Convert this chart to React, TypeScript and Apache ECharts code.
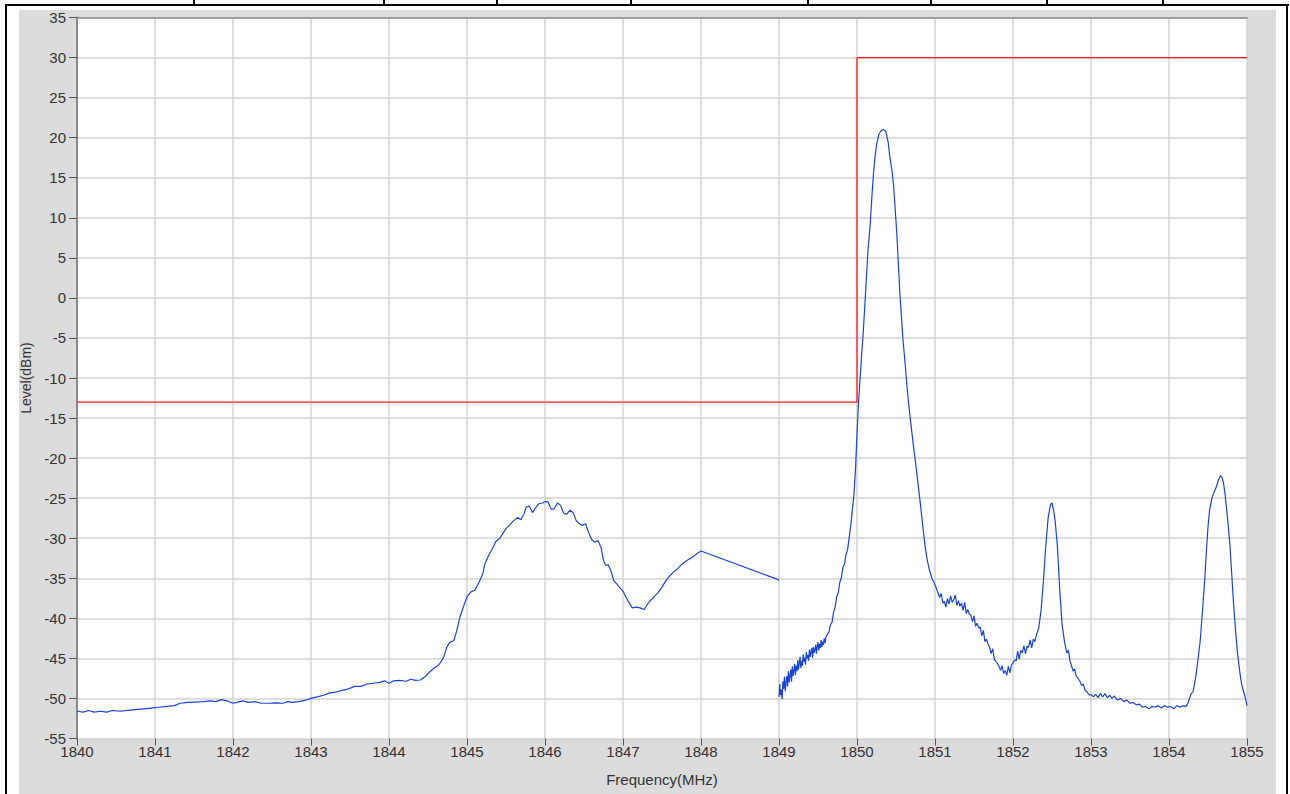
import React, { useEffect, useRef } from "react";
import * as echarts from "echarts";

// Frequency axis (MHz) and level axis (dBm)
const xMin = 1840;
const xMax = 1855;
const yMin = -55;
const yMax = 35;

// Limit mask (red)
const limitFreq = [1840, 1850, 1850, 1855];
const limitLevel = [-13, -13, 30, 30];

// Measured trace, part A (1840 - 1849 MHz)
const freqA = [
  1840.0, 1840.08, 1840.15, 1840.22, 1840.3, 1840.38, 1840.45, 1840.55, 1840.65, 1840.75,
  1840.85, 1840.95, 1841.05, 1841.15, 1841.25, 1841.32, 1841.42, 1841.52, 1841.62, 1841.7,
  1841.78, 1841.85, 1841.92, 1842.0, 1842.05, 1842.12, 1842.2, 1842.28, 1842.36, 1842.46,
  1842.56, 1842.64, 1842.7, 1842.76, 1842.84, 1842.92, 1843.0, 1843.08, 1843.16, 1843.24,
  1843.32, 1843.4, 1843.48, 1843.56, 1843.64, 1843.72, 1843.8, 1843.88, 1843.94, 1844.0,
  1844.06, 1844.14, 1844.22, 1844.28, 1844.34, 1844.4, 1844.46, 1844.52, 1844.58, 1844.64,
  1844.7, 1844.74, 1844.78, 1844.83, 1844.87, 1844.91, 1844.96, 1845.0, 1845.05, 1845.1,
  1845.15, 1845.2, 1845.23, 1845.27, 1845.32, 1845.37, 1845.42, 1845.46, 1845.5, 1845.55,
  1845.6, 1845.65, 1845.69, 1845.73, 1845.76, 1845.8, 1845.84, 1845.88, 1845.92, 1845.97,
  1846.0, 1846.04, 1846.08, 1846.12, 1846.16, 1846.2, 1846.24, 1846.28, 1846.32, 1846.36,
  1846.4, 1846.44, 1846.48, 1846.52, 1846.56, 1846.6, 1846.64, 1846.68, 1846.72, 1846.75,
  1846.78, 1846.81, 1846.85, 1846.88, 1846.92, 1846.96, 1847.0, 1847.04, 1847.08, 1847.12,
  1847.17, 1847.22, 1847.27, 1847.31, 1847.35, 1847.4, 1847.45, 1847.5, 1847.55, 1847.6,
  1847.65, 1847.7, 1847.75, 1847.8, 1847.85, 1847.9, 1847.95, 1848.0, 1849.0,
];
const levelA = [
  -51.6, -51.7, -51.5, -51.7, -51.6, -51.7, -51.5, -51.6, -51.5, -51.4,
  -51.3, -51.2, -51.1, -51.0, -50.9, -50.6, -50.5, -50.45, -50.4, -50.3,
  -50.4, -50.15, -50.3, -50.6, -50.5, -50.3, -50.5, -50.4, -50.6, -50.6,
  -50.55, -50.6, -50.4, -50.5, -50.4, -50.25, -50.0, -49.8, -49.6, -49.3,
  -49.2, -49.0, -48.8, -48.5, -48.5, -48.2, -48.1, -48.0, -47.8, -48.1,
  -47.8, -47.75, -47.85, -47.6, -47.75, -47.7, -47.3, -46.7, -46.2, -45.8,
  -44.9, -43.6, -43.0, -42.8, -41.5, -39.8, -38.4, -37.3, -36.7, -36.5,
  -35.6, -34.5, -33.2, -32.3, -31.4, -30.4, -30.0, -29.4, -28.8, -28.3,
  -27.8, -27.4, -27.7, -27.0, -26.1, -26.0, -26.8, -26.2, -25.7, -25.6,
  -25.4, -25.5, -26.4, -26.3, -25.6, -25.9, -26.9, -27.0, -26.5, -26.8,
  -27.8, -28.2, -28.4, -28.2, -29.3, -30.2, -30.5, -30.3, -31.2, -32.8,
  -33.4, -33.3, -34.2, -35.3, -35.7, -36.2, -36.6, -37.4, -38.1, -38.7,
  -38.6, -38.7, -38.9, -38.3, -37.8, -37.3, -36.8, -36.1, -35.3, -34.7,
  -34.2, -33.8, -33.3, -32.9, -32.6, -32.3, -31.9, -31.6, -35.2,
];

// Measured trace, part B (1849 - 1855 MHz)
const freqB = [
  1849.0, 1849.01, 1849.02, 1849.03, 1849.04, 1849.05, 1849.06, 1849.07, 1849.08, 1849.09,
  1849.1, 1849.11, 1849.12, 1849.13, 1849.14, 1849.15, 1849.16, 1849.17, 1849.18, 1849.19,
  1849.2, 1849.21, 1849.22, 1849.23, 1849.24, 1849.25, 1849.26, 1849.27, 1849.28, 1849.29,
  1849.3, 1849.31, 1849.32, 1849.33, 1849.34, 1849.35, 1849.36, 1849.37, 1849.38, 1849.39,
  1849.4, 1849.41, 1849.42, 1849.43, 1849.44, 1849.45, 1849.46, 1849.47, 1849.48, 1849.49,
  1849.5, 1849.51, 1849.52, 1849.53, 1849.54, 1849.55, 1849.56, 1849.57, 1849.58, 1849.59,
  1849.6, 1849.62, 1849.64, 1849.66, 1849.68, 1849.7, 1849.72, 1849.74, 1849.76, 1849.78,
  1849.8, 1849.82, 1849.84, 1849.86, 1849.88, 1849.9, 1849.92, 1849.94, 1849.96, 1849.98,
  1850.0, 1850.02, 1850.04, 1850.06, 1850.08, 1850.1, 1850.12, 1850.14, 1850.17, 1850.19,
  1850.21, 1850.23, 1850.25, 1850.28, 1850.31, 1850.34, 1850.37, 1850.4, 1850.42, 1850.45,
  1850.47, 1850.49, 1850.51, 1850.53, 1850.55, 1850.57, 1850.59, 1850.62, 1850.64, 1850.66,
  1850.68, 1850.7, 1850.72, 1850.75, 1850.78, 1850.81, 1850.84, 1850.87, 1850.9, 1850.93,
  1850.96, 1851.0, 1851.03, 1851.06, 1851.08, 1851.1, 1851.12, 1851.14, 1851.16, 1851.18,
  1851.2, 1851.22, 1851.24, 1851.26, 1851.28, 1851.3, 1851.32, 1851.34, 1851.36, 1851.38,
  1851.4, 1851.42, 1851.44, 1851.46, 1851.48, 1851.5, 1851.52, 1851.54, 1851.56, 1851.58,
  1851.6, 1851.62, 1851.64, 1851.66, 1851.68, 1851.7, 1851.72, 1851.74, 1851.76, 1851.78,
  1851.8, 1851.82, 1851.84, 1851.86, 1851.88, 1851.9, 1851.92, 1851.94, 1851.96, 1851.98,
  1852.0, 1852.02, 1852.04, 1852.06, 1852.08, 1852.1, 1852.12, 1852.14, 1852.16, 1852.18,
  1852.2, 1852.22, 1852.24, 1852.26, 1852.28, 1852.3, 1852.33, 1852.36, 1852.39, 1852.42,
  1852.45, 1852.48, 1852.5, 1852.52, 1852.54, 1852.57, 1852.6, 1852.63, 1852.66, 1852.69,
  1852.71, 1852.73, 1852.75, 1852.77, 1852.79, 1852.81, 1852.84, 1852.86, 1852.88, 1852.9,
  1852.92, 1852.95, 1852.98, 1853.0, 1853.03, 1853.06, 1853.09, 1853.12, 1853.15, 1853.18,
  1853.21, 1853.24, 1853.27, 1853.3, 1853.34, 1853.38, 1853.42, 1853.46, 1853.5, 1853.54,
  1853.58, 1853.62, 1853.66, 1853.7, 1853.74, 1853.78, 1853.82, 1853.86, 1853.9, 1853.94,
  1853.98, 1854.02, 1854.06, 1854.1, 1854.14, 1854.18, 1854.22, 1854.25, 1854.28, 1854.31,
  1854.34, 1854.37, 1854.4, 1854.43, 1854.46, 1854.48, 1854.5, 1854.52, 1854.55, 1854.58,
  1854.61, 1854.63, 1854.66, 1854.68, 1854.7, 1854.72, 1854.74, 1854.76, 1854.78, 1854.8,
  1854.82, 1854.84, 1854.86, 1854.88, 1854.9, 1854.92, 1854.94, 1854.97, 1855.0,
];
const levelB = [
  -49.8, -48.2, -49.6, -48.9, -50.1, -47.9, -48.8, -47.3, -49.1, -48.0,
  -47.2, -48.5, -46.6, -48.0, -47.1, -46.4, -47.9, -46.0, -47.2, -46.5,
  -45.7, -47.1, -45.9, -46.6, -45.2, -46.4, -45.6, -44.8, -46.2, -45.3,
  -45.9, -44.5, -45.4, -44.9, -45.8, -44.2, -45.0, -44.6, -45.3, -43.9,
  -44.8, -44.2, -43.7, -44.9, -43.6, -44.3, -43.9, -43.3, -44.4, -43.5,
  -43.0, -44.0, -43.2, -43.7, -42.7, -43.6, -42.9, -43.3, -42.5, -43.1,
  -42.4, -42.0, -41.7, -40.8, -40.5, -39.2, -38.6, -37.3, -36.8, -35.5,
  -34.9, -33.6, -33.2, -32.0, -31.4, -29.9, -28.4, -26.5, -24.6, -21.5,
  -17.0, -13.0, -10.0, -7.0, -4.3, -1.0, 2.4, 5.8, 9.3, 12.5,
  15.3, 17.5, 19.1, 20.4, 20.9, 21.0, 20.8, 19.4, 17.7, 15.8,
  13.9, 11.0, 8.1, 4.3, 0.5, -2.4, -5.3, -8.5, -11.0, -13.0,
  -14.8, -16.5, -18.2, -20.5, -23.0, -25.5, -28.2, -30.8, -32.7, -34.0,
  -35.0, -35.8, -36.6, -37.4, -36.9, -38.1, -37.9, -38.6, -37.5, -38.2,
  -37.2, -38.0, -37.7, -37.1, -38.4, -37.8, -38.5, -38.1, -39.0, -38.0,
  -39.4, -38.9, -39.5, -39.6, -40.4, -39.7, -41.0, -40.6, -41.2, -41.1,
  -42.2, -41.5, -42.9, -42.6, -43.2, -43.6, -44.4, -43.8, -45.1, -45.4,
  -45.6, -46.0, -46.5, -45.9, -46.9, -46.5, -47.1, -46.0, -46.8, -45.8,
  -45.6, -45.2, -45.3, -44.1, -45.1, -44.0, -44.3, -43.4, -44.4, -43.5,
  -43.6, -42.7, -43.7, -42.6, -42.9, -42.1, -41.2, -39.0, -35.3, -31.0,
  -27.5, -25.8, -25.6, -26.5, -27.8, -31.1, -36.6, -40.8, -42.9, -44.3,
  -44.0, -45.3, -45.9, -46.6, -46.3, -47.2, -47.6, -47.9, -48.4, -48.2,
  -48.9, -49.2, -49.6, -49.5, -49.8, -49.5, -49.9, -49.4, -49.8, -49.4,
  -49.9, -49.6, -50.0, -49.7, -50.2, -50.0, -50.4, -50.2, -50.6, -50.5,
  -50.8, -50.7, -51.1, -51.0, -51.3, -51.0, -51.1, -50.9, -51.2, -50.9,
  -51.1, -51.0, -51.3, -50.9, -51.1, -50.9, -51.0, -50.4, -49.5, -49.1,
  -47.5, -45.3, -42.8, -39.0, -34.9, -31.5, -28.6, -26.5, -25.0, -24.2,
  -23.5, -22.8, -22.2, -22.4, -23.2, -24.6, -26.5, -28.5, -30.7, -33.8,
  -37.0, -39.8, -42.4, -44.5, -46.1, -47.6, -48.6, -49.6, -50.9,
];

// Decorative top table dividers (x positions)
const dividerX = [194, 384, 497, 631, 808, 931, 1047, 1163];

const pairs = (xs: number[], ys: number[]) => xs.map((x, i) => [x, ys[i]]);

const FONT = "'Liberation Sans', Arial, sans-serif";

export default function App() {
  const ref = useRef<HTMLDivElement>(null);

  useEffect(() => {
    if (!ref.current) return;
    const chart = echarts.init(ref.current, null, { renderer: "svg" });
    chart.setOption({
      animation: false,
      grid: {
        left: 77,
        right: 43,
        top: 17.5,
        bottom: 55.5,
        show: true,
        backgroundColor: "#ffffff",
        borderWidth: 0,
      },
      xAxis: [
        {
          type: "value",
          min: xMin,
          max: xMax,
          interval: 1,
          position: "bottom",
          name: "Frequency(MHz)",
          nameLocation: "middle",
          nameGap: 33,
          nameTextStyle: { color: "#333", fontSize: 15, fontFamily: FONT },
          axisLine: { show: false, onZero: false },
          axisTick: { show: true, length: 7, lineStyle: { color: "#555", width: 1 } },
          axisLabel: {
            color: "#333",
            fontSize: 15,
            lineHeight: 13,
            fontFamily: FONT,
            margin: 6,
            formatter: (v: number) => String(v),
          },
          splitLine: { show: true, lineStyle: { color: "#d3d3d3", width: 1.5 } },
        },
        {
          type: "value",
          min: xMin,
          max: xMax,
          interval: 1,
          position: "top",
          axisLine: { show: true, onZero: false, lineStyle: { color: "#8a8a8a", width: 1.5 } },
          axisTick: { show: false },
          axisLabel: { show: false },
          splitLine: { show: false },
        },
      ],
      yAxis: {
        type: "value",
        min: yMin,
        max: yMax,
        interval: 5,
        name: "Level(dBm)",
        nameLocation: "middle",
        nameGap: 40,
        nameRotate: 90,
        nameTextStyle: { color: "#333", fontSize: 14, fontFamily: FONT },
        axisLine: { show: true, onZero: false, lineStyle: { color: "#8a8a8a", width: 2 } },
        axisTick: { show: true, length: 8, lineStyle: { color: "#555", width: 1 } },
        axisLabel: { color: "#333", fontSize: 15, lineHeight: 13, fontFamily: FONT, margin: 11 },
        splitLine: { show: true, lineStyle: { color: "#d3d3d3", width: 1.5 } },
      },
      series: [
        {
          type: "line",
          name: "Limit",
          xAxisIndex: 0,
          data: pairs(limitFreq, limitLevel),
          showSymbol: false,
          symbol: "none",
          lineStyle: { color: "#ff1a1a", width: 1.3 },
          z: 3,
        },
        {
          type: "line",
          name: "TraceA",
          xAxisIndex: 0,
          data: pairs(freqA, levelA),
          showSymbol: false,
          symbol: "none",
          lineStyle: { color: "#1a44d8", width: 1.2 },
          z: 4,
        },
        {
          type: "line",
          name: "TraceB",
          xAxisIndex: 0,
          data: pairs(freqB, levelB),
          showSymbol: false,
          symbol: "none",
          lineStyle: { color: "#1a44d8", width: 1.2 },
          z: 4,
        },
      ],
    });
    return () => chart.dispose();
  }, []);

  return (
    <div
      style={{
        position: "fixed",
        left: 0,
        top: 0,
        width: 1290,
        height: 794,
        background: "#ffffff",
        overflow: "hidden",
      }}
    >
      {dividerX.map((x) => (
        <div
          key={x}
          style={{ position: "absolute", left: x - 1, top: 0, width: 2, height: 5, background: "#000" }}
        />
      ))}
      <div style={{ position: "absolute", left: 5, top: 4, width: 1284, height: 2, background: "#000" }} />
      <div style={{ position: "absolute", left: 5, top: 4, width: 2, height: 790, background: "#000" }} />
      <div style={{ position: "absolute", left: 1286, top: 4, width: 2, height: 790, background: "#000" }} />
      <div style={{ position: "absolute", left: 19, top: 10, width: 1257, height: 784, background: "#dcdcdc" }} />
      <div ref={ref} style={{ position: "absolute", left: 0, top: 0, width: 1290, height: 794 }} />
    </div>
  );
}
